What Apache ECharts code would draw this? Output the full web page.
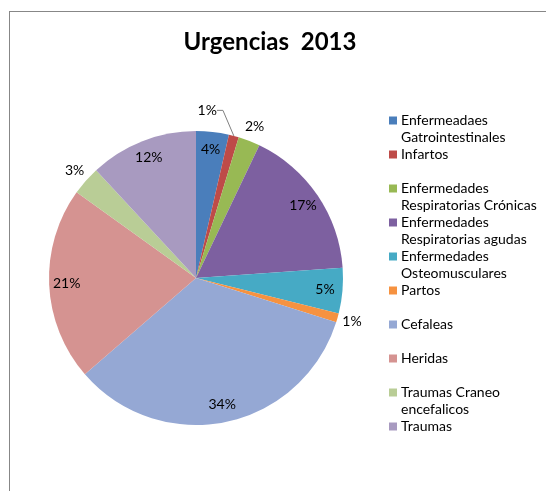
<!DOCTYPE html>
<html>
<head>
<meta charset="utf-8">
<script src="https://cdn.jsdelivr.net/npm/echarts@6/dist/echarts.min.js"></script>
<style>
  html, body { margin: 0; padding: 0; background: #fff; }
  #frame {
    position: absolute; left: 9px; top: 11px; width: 600px; height: 600px;
    border: 1px solid #878787; box-sizing: border-box;
  }
  #chart { position: absolute; left: 0; top: 0; width: 546px; height: 491px; }
</style>
</head>
<body>
<div id="frame"></div>
<div id="chart"></div>
<script>
// categorias y valores (porcentaje de urgencias)
const categories = [
  'Enfermeadaes Gatrointestinales',
  'Infartos',
  'Enfermedades Respiratorias Crónicas',
  'Enfermedades Respiratorias agudas',
  'Enfermedades Osteomusculares',
  'Partos',
  'Cefaleas',
  'Heridas',
  'Traumas Craneo encefalicos',
  'Traumas'
]
const values = [3.6, 1.1, 2.4, 16.8, 5.0, 1.0, 33.8, 21.3, 3.2, 11.9]
// como se parte cada nombre en la leyenda
const legendLines = [
  ['Enfermeadaes', 'Gatrointestinales'],
  ['Infartos'],
  ['Enfermedades', 'Respiratorias Crónicas'],
  ['Enfermedades', 'Respiratorias agudas'],
  ['Enfermedades', 'Osteomusculares'],
  ['Partos'],
  ['Cefaleas'],
  ['Heridas'],
  ['Traumas Craneo', 'encefalicos'],
  ['Traumas']
]
// etiquetas dentro / fuera del sector
const insideLabel = [true, false, false, true, true, false, true, true, false, true]

const colors = ['#4a7ebb', '#be4b48', '#98b954', '#7d60a0', '#46aac5',
  '#f69240', '#95a8d4', '#d59391', '#b9cd96', '#a89ac0']

const FONT = 'Lato, "Liberation Sans", sans-serif'
const center = [196, 278]
const R = 147

const pctFormatter = p => Math.round(p.percent) + '%'

const rich = {
  g: { width: 4 },
  sp: { width: 12 },
  t: { fontFamily: FONT, fontSize: 14, lineHeight: 17, color: '#000' }
}
colors.forEach((c, i) => {
  rich['c' + i] = { width: 8, height: 8, backgroundColor: c }
})

const chart = echarts.init(document.getElementById('chart'))
chart.setOption({
  animation: false,
  color: colors,
  title: {
    text: 'Urgencias  2013',
    left: 265,
    top: 25,
    textAlign: 'center',
    textStyle: { fontFamily: FONT, fontSize: 24, fontWeight: 'bold', color: '#000' }
  },
  legend: {
    orient: 'vertical',
    left: 379,
    top: 107,
    itemGap: 0,
    itemWidth: 0,
    itemHeight: 34,
    itemStyle: { opacity: 0 },
    selectedMode: false,
    data: categories,
    formatter: function (name) {
      const i = categories.indexOf(name)
      const l = legendLines[i]
      return '{c' + i + '|}{g|}{t|' + l[0] + '}\n{sp|}{t|' + (l[1] || ' ') + '}'
    },
    textStyle: { rich: rich }
  },
  series: [
    {
      // sectores
      type: 'pie',
      center: center,
      radius: R,
      startAngle: 90,
      clockwise: true,
      itemStyle: { borderWidth: 0 },
      label: { show: false },
      labelLine: { show: false },
      data: categories.map((name, i) => {
        const d = { name: name, value: values[i] }
        if (i === 1) {
          d.label = {
            show: true, position: 'outside', formatter: pctFormatter,
            fontFamily: FONT, fontSize: 14, color: '#000'
          }
          d.labelLine = { show: true, length: 12, length2: 6, lineStyle: { color: '#7f7f7f', width: 1 } }
        }
        return d
      }),
      // la etiqueta del 1% va a la izquierda de su linea, como en Excel
      labelLayout: function (params) {
        if (params.dataIndex !== 1) return {}
        const r = params.labelRect
        return {
          x: r.x - 31,
          y: r.y + r.height / 2 - 14,
          align: 'right',
          verticalAlign: 'middle'
        }
      }
    },
    {
      // etiquetas interiores
      type: 'pie',
      center: center,
      radius: 2 * 0.86 * R,
      startAngle: 90,
      silent: true,
      itemStyle: { color: 'transparent' },
      label: {
        position: 'inside', formatter: pctFormatter,
        fontFamily: FONT, fontSize: 14, color: '#000'
      },
      data: categories.map((name, i) => ({
        name: name, value: values[i], label: { show: insideLabel[i] }
      }))
    },
    {
      // etiquetas exteriores
      type: 'pie',
      center: center,
      radius: 2 * (R + 12),
      startAngle: 90,
      silent: true,
      itemStyle: { color: 'transparent' },
      label: {
        position: 'inside', formatter: pctFormatter,
        fontFamily: FONT, fontSize: 14, color: '#000'
      },
      data: categories.map((name, i) => ({
        name: name, value: values[i], label: { show: !insideLabel[i] && i !== 1 }
      }))
    }
  ]
})
</script>
</body>
</html>
